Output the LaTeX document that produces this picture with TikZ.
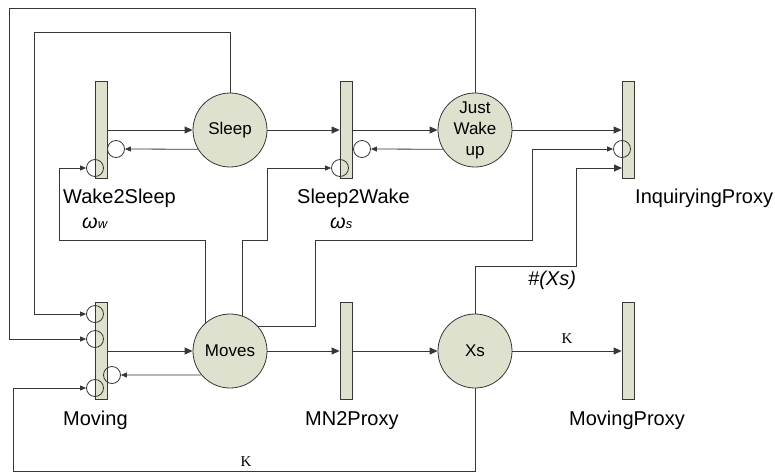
\documentclass[tikz,border=0pt]{standalone}
\usepackage{fontspec}
\setmainfont{Liberation Sans}
\newfontfamily\serifK{Liberation Serif}
\usetikzlibrary{arrows.meta}
\definecolor{pfill}{RGB}{222,225,205}
\definecolor{lc}{RGB}{55,55,55}
\begin{document}
\begin{tikzpicture}[x=1pt,y=-1pt,
  bar/.style={draw=lc, fill=pfill, minimum width=12pt, minimum height=97pt, inner sep=0pt, line width=0.8pt},
  place/.style={circle, draw=lc, fill=pfill, minimum size=74pt, inner sep=0pt, line width=0.8pt, font=\fontsize{17}{21}\selectfont, align=center},
  inh/.style={circle, draw=lc, minimum size=17pt, inner sep=0pt, line width=0.8pt},
  arr/.style={draw=lc, line width=0.8pt, -{Triangle[length=8pt,width=7pt]}},
  iarr/.style={draw=lc, line width=0.8pt, -{Triangle[length=6pt,width=5pt]}},
  lbl/.style={font=\fontsize{20}{24}\selectfont, anchor=base west, inner sep=0pt},
  klbl/.style={font=\serifK\fontsize{15}{18}\selectfont, inner sep=0pt}]
\useasboundingbox (0,0) rectangle (775,474);

% transitions
\node[bar] (w2s) at (101,130) {};
\node[bar] (s2w) at (346,130) {};
\node[bar] (inq) at (628,130) {};
\node[bar] (mov) at (101,351) {};
\node[bar] (mn2) at (346,351) {};
\node[bar] (mvp) at (628,351) {};

% places
\node[place] (Sleep) at (230,130) {Sleep};
\node[place] (JWU) at (475,130) {Just\\Wake\\up};
\node[place] (Moves) at (230,351) {Moves};
\node[place] (Xs) at (475,351) {Xs};

% inhibitor circles
\node[inh] (iw2sL) at (95,168) {};
\node[inh] (iw2sR) at (116,149) {};
\node[inh] (is2wL) at (340,168) {};
\node[inh] (is2wR) at (362,149) {};
\node[inh] (iinq) at (622,149) {};
\node[inh] (imov1) at (95,314) {};
\node[inh] (imov2) at (95,339) {};
\node[inh] (imov3) at (95,388) {};
\node[inh] (imovR) at (112,375) {};

% routing coordinates
\coordinate (rA) at (59,240);
\coordinate (rB) at (267,240);
\coordinate (rC1) at (315,240);
\coordinate (rC2) at (532,240);
\coordinate (rD) at (34,32);
\coordinate (rE) at (9,8);
\coordinate (rF) at (13,471);
\coordinate (rG) at (576,266);
\coordinate (inqIn) at (622,168);

% straight arcs
\draw[arr] (w2s) -- (Sleep);
\draw[arr] (Sleep) -- (s2w);
\draw[arr] (s2w) -- (JWU);
\draw[arr] (JWU) -- (inq);
\draw[arr] (mov) -- (Moves);
\draw[arr] (Moves) -- (mn2);
\draw[arr] (mn2) -- (Xs);
\draw[arr] (Xs) -- node[klbl, above=7pt] (k1) {K} (mvp);
\draw[iarr] (Sleep.211) -- (iw2sR.east);
\draw[iarr] (JWU.211) -- (is2wR.east);
\draw[iarr] (Moves.220.4) -- (imovR.east);

% routed arcs
\draw[iarr] (Moves.132.5) |- (rA) |- (iw2sL.west);
\draw[iarr] (Moves.71) |- (rB) |- (is2wL.west);
\draw[iarr] (Moves.42.5) -| (rC1) -- (rC2) |- (iinq.west);
\draw[iarr] (Sleep.north) |- (rD) |- (imov1.west);
\draw[iarr] (JWU.north) |- (rE) |- (imov2.west);
\draw[iarr] (Xs.south) |- (rF) |- (imov3.west);
\draw[arr] (Xs.north) |- (rG) |- (inqIn);

% labels
\node[lbl] (lw2s) at (63,203) {Wake2Sleep};
\node[lbl] (ls2w) at (297,203) {Sleep2Wake};
\node[lbl] (linq) at (635,203) {InquiryingProxy};
\node[lbl] (lmov) at (63,425) {Moving};
\node[lbl] (lmn2) at (305,425) {MN2Proxy};
\node[lbl] (lmvp) at (569,425) {MovingProxy};
\node[lbl] (ww) at (82,228) {\itshape ω{\fontsize{13}{15}\selectfont w}};
\node[lbl] (ws) at (330,228) {\itshape ω{\fontsize{13}{15}\selectfont s}};
\node[lbl] (hxs) at (528,285) {\itshape \#(Xs)};
\node[klbl] (k2) at (246,462) {K};
\end{tikzpicture}
\end{document}
